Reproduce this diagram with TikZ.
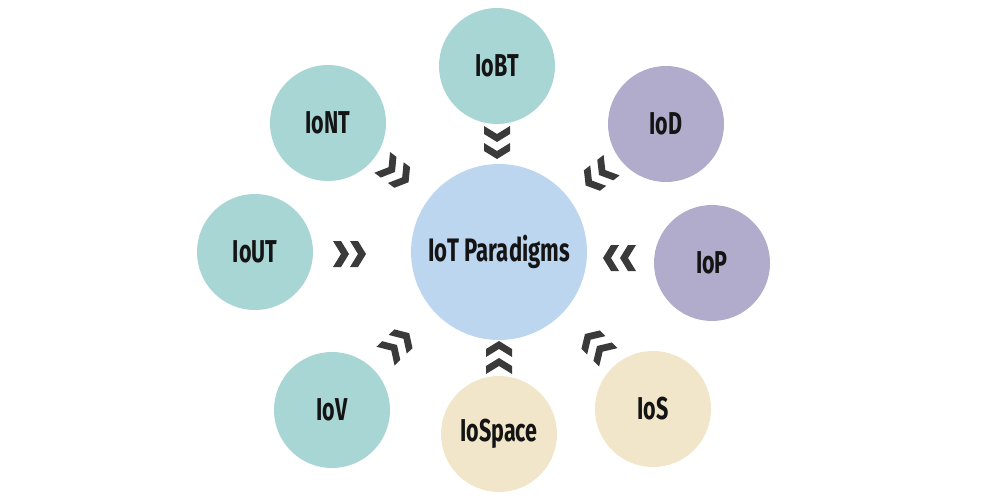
\documentclass[tikz,border=0pt]{standalone}
\usepackage{fontspec}
\setmainfont{Fira Sans}[FakeStretch=0.68]
\definecolor{tealc}{HTML}{A8D6D4}
\definecolor{purplec}{HTML}{B1ABCC}
\definecolor{beigec}{HTML}{F2E6CA}
\definecolor{bluec}{HTML}{BCD6F0}
\definecolor{chevc}{HTML}{3A3A3A}
\tikzset{
  paradigm/.style={circle, inner sep=0pt, minimum size=2.32cm, font=\fontsize{18}{21}\selectfont\bfseries, text=black!92},
  hub/.style={paradigm, minimum size=3.52cm, font=\fontsize{18.5}{22}\selectfont\bfseries},
  chevpart/.style={fill=chevc, draw=none},
  pics/chevrons/.style={code={
    \foreach \o in {-16,1}{
      \fill[chevpart] (\o,-13) -- (\o+8,-13) -- (\o+16,0) -- (\o+8,13) -- (\o,13) -- (\o+8,0) -- cycle;
    }
  }}
}
\begin{document}
\begin{tikzpicture}[x=0.02cm, y=-0.02cm]
\useasboundingbox[fill=white] (0,0) rectangle (1000,500);
\node[hub, fill=bluec] (c) at (499,252) {IoT Paradigms};
\node[paradigm, fill=tealc] (iobt) at (497,66) {IoBT};
\node[paradigm, fill=tealc] (iont) at (328,123) {IoNT};
\node[paradigm, fill=purplec] (iod) at (666,124) {IoD};
\node[paradigm, fill=tealc] (iout) at (255,252) {IoUT};
\node[paradigm, fill=purplec] (iop) at (712,263) {IoP};
\node[paradigm, fill=tealc] (iov) at (332,410) {IoV};
\node[paradigm, fill=beigec] (iospace) at (499,434) {IoSpace};
\node[paradigm, fill=beigec] (ios) at (653,409) {IoS};
% chevrons pointing toward the hub (angles in canvas orientation)
\pic[rotate=-90] at (497,142) {chevrons};
\pic[rotate=-37] at (395,172) {chevrons};
\pic[rotate=-142] at (599,175) {chevrons};
\pic[rotate=0] at (349,254) {chevrons};
\pic[rotate=180] at (620,258) {chevrons};
\pic[rotate=44] at (397,345) {chevrons};
\pic[rotate=90] at (499,358) {chevrons};
\pic[rotate=135] at (597,346) {chevrons};
\end{tikzpicture}
\end{document}
